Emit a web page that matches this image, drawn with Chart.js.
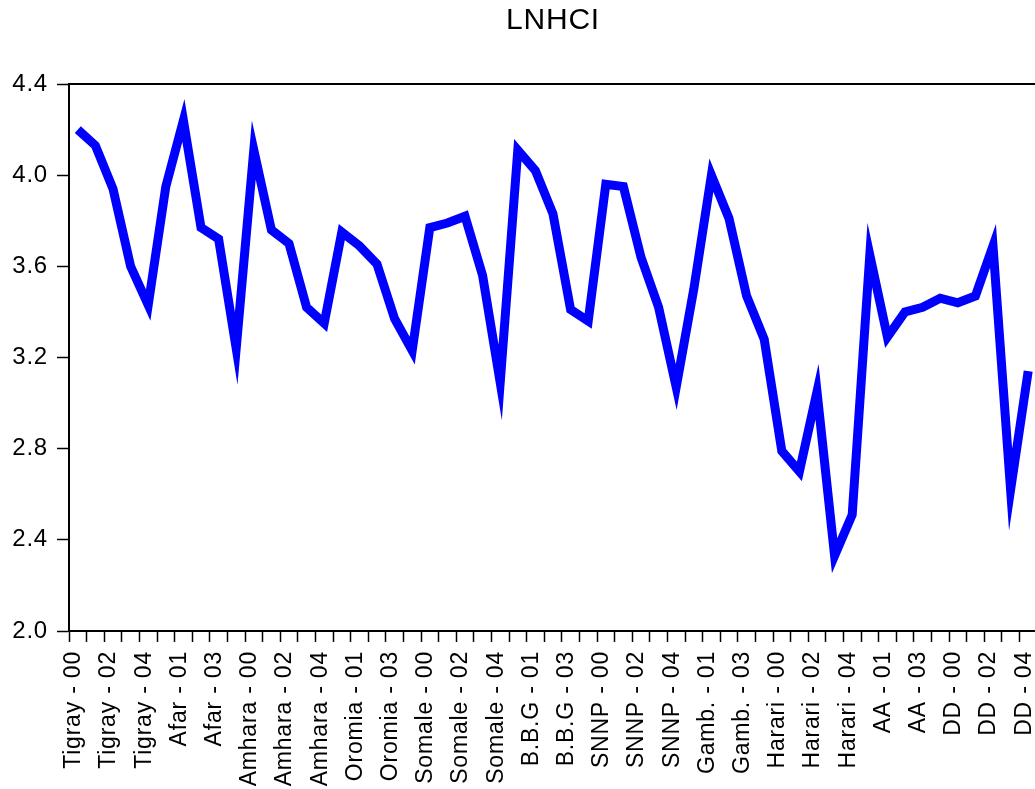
<!DOCTYPE html>
<html>
<head>
<meta charset="utf-8">
<title>LNHCI</title>
<script src="https://cdn.jsdelivr.net/npm/chart.js@4.4.0/dist/chart.umd.min.js"></script>
<style>
  html, body { margin: 0; padding: 0; overflow: hidden; background: #ffffff; }
  #wrap { position: relative; width: 1037px; height: 789px; }
</style>
</head>
<body>
<div id="wrap"><canvas id="chart"></canvas></div>
<script>
// Regions and survey years that make up the category axis
const regions = ['Tigray', 'Afar', 'Amhara', 'Oromia', 'Somale', 'B.B.G', 'SNNP', 'Gamb.', 'Harari', 'AA', 'DD'];
const years = ['00', '01', '02', '03', '04'];
const categories = regions.flatMap(r => years.map(y => r + ' - ' + y));

// LNHCI by region and year
const lnhci = [
  4.20, 4.13, 3.94, 3.60, 3.43,   // Tigray
  3.95, 4.24, 3.77, 3.72, 3.24,   // Afar
  4.11, 3.76, 3.70, 3.42, 3.35,   // Amhara
  3.75, 3.69, 3.61, 3.37, 3.23,   // Oromia
  3.77, 3.79, 3.82, 3.56, 3.09,   // Somale
  4.11, 4.02, 3.83, 3.41, 3.36,   // B.B.G
  3.96, 3.95, 3.64, 3.42, 3.07,   // SNNP
  3.50, 4.00, 3.81, 3.47, 3.28,   // Gamb.
  2.79, 2.70, 3.05, 2.33, 2.51,   // Harari
  3.65, 3.29, 3.40, 3.42, 3.46,   // AA
  3.44, 3.47, 3.69, 2.62, 3.14    // DD
];

// Value axis ticks
const yTicks = [2.0, 2.4, 2.8, 3.2, 3.6, 4.0, 4.4];

const FONT = "'Liberation Sans', Arial, Helvetica, sans-serif";

// Slightly wide lettering, sharp line joins, and a closed frame round the plot
const framePlugin = {
  id: 'frame',
  beforeLayout(chart) { chart.ctx.letterSpacing = '0.8px'; },
  beforeDraw(chart) { chart.ctx.letterSpacing = '0.8px'; },
  beforeDatasetsDraw(chart) { chart.ctx.miterLimit = 20; },
  afterDatasetsDraw(chart) {
    const { ctx, chartArea: a } = chart;
    ctx.save();
    ctx.strokeStyle = '#000000';
    ctx.lineWidth = 2;
    ctx.strokeRect(a.left, a.top, a.right - a.left, a.bottom - a.top);
    ctx.restore();
  }
};

new Chart(document.getElementById('chart'), {
  type: 'line',
  data: {
    labels: categories,
    datasets: [{
      label: 'LNHCI',
      data: lnhci,
      xAxisID: 'x',
      borderColor: '#0000ff',
      borderWidth: 9,
      borderJoinStyle: 'miter',
      borderCapStyle: 'butt',
      pointRadius: 0,
      tension: 0,
      fill: false
    }]
  },
  options: {
    responsive: true,
    maintainAspectRatio: false,
    animation: false,
    devicePixelRatio: 1,
    layout: { padding: { top: 0, left: 0, right: 0, bottom: 0 } },
    plugins: {
      legend: { display: false },
      tooltip: { enabled: false },
      title: { display: false }
    },
    scales: {
      // Top axis carries only the chart heading, centred over the plot
      top: {
        type: 'category',
        position: 'top',
        offset: true,
        grid: { display: false },
        border: { display: false },
        ticks: { display: false },
        title: {
          display: true,
          text: 'LNHCI',
          color: '#000000',
          font: { family: FONT, size: 30, weight: 'normal' },
          padding: { top: 3, bottom: 0 }
        },
        afterFit(s) { s.height = 84; s.paddingLeft = 0; s.paddingRight = 0; }
      },
      x: {
        type: 'category',
        position: 'bottom',
        offset: true,
        grid: {
          display: true,
          offset: true,
          drawOnChartArea: false,
          drawTicks: true,
          tickLength: 11,
          tickColor: '#000000',
          tickWidth: 1.5
        },
        border: { display: true, color: '#000000', width: 2 },
        ticks: {
          autoSkip: false,
          minRotation: 90,
          maxRotation: 90,
          padding: 9,
          labelOffset: -4,
          color: '#000000',
          font: { family: FONT, size: 23 },
          callback: (v, i) => (i % 2 === 0 ? categories[i] : '')
        },
        afterFit(s) { s.height = 158; s.paddingLeft = 0; s.paddingRight = 0; }
      },
      y: {
        min: 2.0,
        max: 4.4,
        grid: {
          drawOnChartArea: false,
          drawTicks: true,
          tickLength: 12,
          tickColor: '#000000',
          tickWidth: 1.5
        },
        border: { display: true, color: '#000000', width: 2 },
        ticks: {
          padding: 9,
          color: '#000000',
          font: { family: FONT, size: 24 },
          callback: v => Number(v).toFixed(1)
        },
        afterBuildTicks(s) { s.ticks = yTicks.map(v => ({ value: v })); },
        afterFit(s) { s.width = 69; }
      }
    }
  },
  plugins: [framePlugin]
});
</script>
</body>
</html>
